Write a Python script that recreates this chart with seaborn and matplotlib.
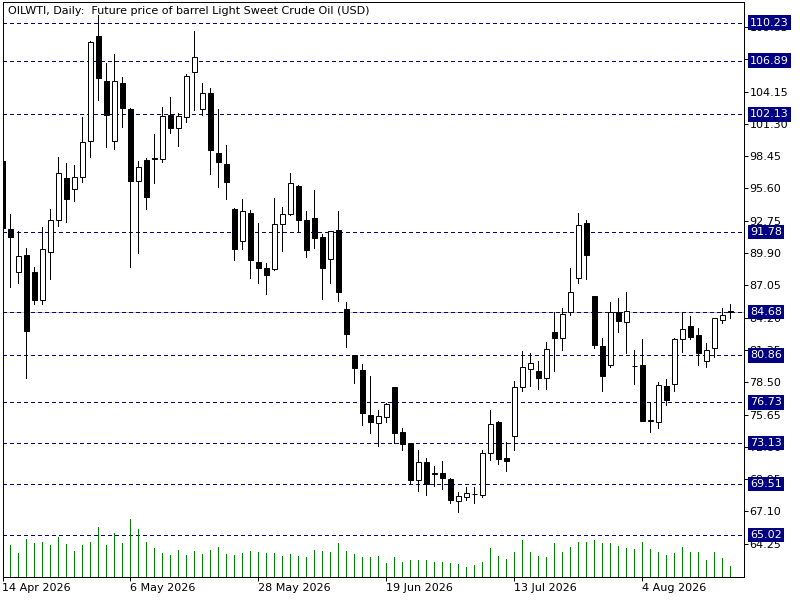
import numpy as np
import pandas as pd
import matplotlib
matplotlib.use('Agg')
import matplotlib.pyplot as plt
import seaborn as sns

# daily OHLC, one row per trading day from 14 Apr 2026
opens = [98.02, 92.00, 88.25, 89.69, 88.19, 85.78, 89.98, 92.83, 96.48, 95.59,
         96.65, 99.75, 109.08, 105.04, 99.79, 104.94, 102.60, 96.29, 98.15, 98.25,
         98.21, 102.09, 100.97, 101.93, 105.87, 102.57, 104.05, 98.76, 97.80, 93.79,
         90.94, 93.41, 89.11, 88.57, 88.47, 92.42, 93.38, 95.81, 92.80, 92.96,
         91.33, 89.34, 91.90, 84.95, 80.88, 79.60, 75.63, 74.86, 75.43, 78.06,
         74.09, 73.13, 69.86, 71.43, 70.40, 70.47, 69.96, 68.00, 68.35, 68.62,
         68.51, 72.29, 75.02, 71.85, 73.74, 78.06, 79.63, 79.50, 78.86, 82.90,
         82.39, 84.73, 87.67, 92.51, 86.10, 81.68, 79.98, 84.66, 83.86, 79.97,
         79.98, 75.11, 74.96, 78.16, 78.32, 82.29, 83.44, 82.64, 80.34, 81.55,
         83.99, 84.75]
highs = [98.10, 93.31, 91.84, 90.33, 88.67, 92.16, 93.76, 98.38, 97.83, 97.64,
         101.93, 108.60, 110.93, 106.64, 107.44, 105.42, 102.67, 98.02, 98.30, 100.39,
         102.76, 103.66, 102.28, 105.74, 109.46, 104.88, 104.43, 102.60, 99.43, 93.86,
         94.66, 93.70, 92.54, 88.99, 94.75, 93.95, 96.97, 95.94, 93.60, 95.46,
         91.55, 91.85, 93.60, 85.59, 80.92, 80.15, 79.05, 76.04, 76.65, 78.10,
         74.47, 73.15, 72.55, 71.85, 71.11, 71.56, 70.08, 68.80, 69.22, 69.25,
         72.55, 76.07, 75.10, 73.19, 78.57, 81.27, 81.04, 80.34, 82.07, 84.66,
         85.05, 88.57, 93.47, 92.80, 86.15, 82.39, 85.59, 85.91, 86.46, 81.36,
         82.32, 76.72, 78.48, 78.80, 82.39, 84.66, 84.34, 83.28, 82.00, 84.20,
         85.05, 85.37]
lows = [91.95, 86.90, 87.29, 78.89, 85.43, 85.43, 87.61, 92.32, 92.67, 94.53,
        96.20, 98.38, 103.37, 99.27, 99.11, 101.03, 88.64, 89.92, 93.83, 96.10,
        97.96, 100.49, 99.34, 101.48, 102.51, 102.12, 96.90, 95.75, 94.69, 89.31,
        90.30, 87.74, 87.29, 86.33, 88.40, 90.11, 93.30, 91.84, 89.59, 90.33,
        85.88, 87.29, 85.69, 81.65, 78.41, 74.73, 74.06, 72.87, 74.96, 73.13,
        72.49, 69.51, 68.87, 68.55, 69.35, 69.12, 67.87, 67.01, 68.07, 67.81,
        68.40, 71.65, 71.27, 70.69, 72.55, 77.77, 78.16, 77.93, 77.87, 79.53,
        81.36, 84.41, 87.29, 87.61, 81.55, 77.77, 79.86, 82.96, 81.11, 78.38,
        75.05, 74.15, 74.47, 76.49, 77.77, 81.17, 82.32, 80.05, 79.86, 80.72,
        83.70, 84.21]
closes = [92.10, 91.36, 89.60, 83.06, 85.78, 90.24, 92.86, 96.98, 94.69, 96.65,
          99.66, 108.50, 105.36, 102.12, 105.10, 102.67, 96.23, 97.51, 94.88, 98.18,
          102.03, 100.94, 102.03, 105.55, 107.22, 103.98, 99.02, 97.96, 96.20, 90.30,
          93.60, 89.31, 88.54, 87.99, 92.42, 93.31, 96.10, 92.83, 90.21, 91.26,
          88.60, 91.81, 86.46, 82.74, 79.79, 75.82, 74.96, 75.50, 76.59, 74.06,
          73.03, 69.83, 71.43, 69.51, 70.45, 70.02, 68.07, 68.45, 68.71, 68.68,
          72.23, 74.79, 71.75, 71.53, 78.06, 79.82, 80.18, 78.86, 81.39, 82.39,
          84.50, 86.42, 92.35, 89.76, 81.81, 79.09, 84.66, 83.92, 84.76, 79.95,
          75.11, 75.15, 78.25, 76.97, 82.29, 83.22, 82.48, 81.11, 81.36, 84.15,
          84.41, 84.68]
volume = [32, 31.7, 23.7, 37.7, 33.7, 34.7, 31.7, 39.7, 32.7, 25.7,
          31.7, 34.7, 49.7, 31.7, 43.7, 33.7, 57.7, 47.7, 34.7, 28.7,
          23.7, 21.7, 26.7, 21.7, 25.7, 22.7, 26.7, 29.7, 22.7, 21.7,
          23.7, 25.7, 24.7, 23.7, 23.7, 20.7, 22.7, 20.7, 19.7, 26.7,
          25.7, 24.7, 33.7, 25.7, 22.7, 19.7, 19.7, 20.7, 13.7, 19.7,
          15, 17, 17, 17, 15, 15, 14, 13, 10, 12,
          15, 29, 21, 18, 25, 37, 25, 21, 20, 34,
          25, 30, 35, 35, 37, 34, 34, 31, 29, 28,
          35, 28, 25, 22, 24, 30, 25, 25, 17, 25,
          19, 11]

levels = [110.23, 106.89, 102.13, 91.78, 84.68, 80.86, 76.73, 73.13, 69.51, 65.02]
last_price = 84.68
price_ticks = [64.25, 67.10, 69.95, 72.80, 75.65, 78.50, 81.35, 84.20, 87.05,
               89.90, 92.75, 95.60, 98.45, 101.30, 104.15, 107.00, 109.85]
date_labels = ['14 Apr 2026', '6 May 2026', '28 May 2026', '19 Jun 2026',
               '13 Jul 2026', '4 Aug 2026']
title = 'OILWTI, Daily:  Future price of barrel Light Sweet Crude Oil (USD)'

dates = pd.bdate_range('2026-04-14', periods=len(opens))
df = pd.DataFrame({'date': dates, 'open': opens, 'high': highs,
                   'low': lows, 'close': closes, 'volume': volume})
df['idx'] = np.arange(len(df))
df['up'] = df['close'] >= df['open']

sns.set_style('white')
plt.rcParams['font.family'] = ['DejaVu Sans']

NAVY = '#000080'
LW = 0.72

fig = plt.figure(figsize=(8, 6), dpi=100)
ax = fig.add_axes([2.5 / 800, 23.3 / 600, 741.5 / 800, 574.2 / 600])

# volume sits in a twin axis along the bottom
axv = ax.twinx()
sns.barplot(data=df, x='idx', y='volume', ax=axv, native_scale=True,
            width=0.14, color='#008000', saturation=1, errorbar=None,
            linewidth=0, antialiased=False)
axv.set_ylim(0, 574.2)
axv.set_yticks([])
axv.set_ylabel('')
axv.set_xlabel('')
axv.tick_params(right=False, left=False)

# level lines and current price
ax.axhline(last_price, color='#C0C0C0', lw=LW, zorder=0.5, antialiased=False)
for lv in levels:
    ax.axhline(lv, color=NAVY, lw=LW, ls=(0, (3.5, 3)), zorder=1, antialiased=False)

# candles
ax.vlines(df['idx'], df['low'], df['high'], color='black', lw=LW, zorder=2,
          antialiased=False)
body_lo = np.minimum(df['open'], df['close'])
body_h = np.maximum(np.abs(df['close'] - df['open']), 0.02)
ax.bar(df['idx'], body_h, bottom=body_lo, width=0.52,
       color=np.where(df['up'], 'white', 'black'),
       edgecolor='black', linewidth=LW, zorder=3)

ax.set_xlim(0, 92.69)
ax.set_ylim(61.34, 112.01)

ax.yaxis.tick_right()
ax.set_yticks(price_ticks)
ax.set_yticklabels([f'{t:.2f}' for t in price_ticks])
ax.tick_params(axis='y', which='both', right=True, left=False, direction='out',
               length=3, width=LW, pad=1, labelsize=8, colors='black')

tick_pos = [dates.get_loc(pd.Timestamp(t)) for t in date_labels]
ax.set_xticks(tick_pos)
ax.set_xticklabels(date_labels)
for lbl in ax.get_xticklabels():
    lbl.set_ha('left')
ax.tick_params(axis='x', bottom=True, direction='out', length=3, width=LW,
               pad=1.5, labelsize=8, colors='black')

for sp in ax.spines.values():
    sp.set_visible(True)
    sp.set_color('black')
    sp.set_linewidth(LW)
for sp in axv.spines.values():
    sp.set_visible(False)

# price labels on the right
for lv in levels:
    ax.annotate(f'{lv:.2f}', xy=(1, lv), xycoords=('axes fraction', 'data'),
                xytext=(6, 0), textcoords='offset pixels', ha='left', va='center',
                color='white', fontsize=8, annotation_clip=False, zorder=10,
                bbox=dict(boxstyle='square,pad=0.2', fc=NAVY, ec='none'))

ax.text(5 / 741.5, 0.985, title, transform=ax.transAxes, ha='left', va='center',
        fontsize=8, color='black')

fig.savefig('out.png', dpi=100)
